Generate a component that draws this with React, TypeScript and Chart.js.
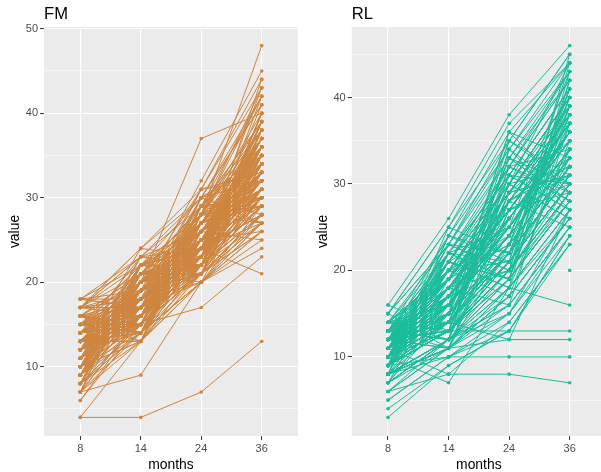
import React, { useEffect, useRef } from 'react';
import { Chart, registerables } from 'chart.js';

Chart.register(...registerables);

const FONT = '"Liberation Sans", Arial, Helvetica, sans-serif';

// categories (discrete months axis)
const months = ['8', '14', '24', '36'];

// FM group: one value per subject at each month
const fm8 = [
  4, 4, 7, 12, 15, 9, 11, 18, 13, 10,
  16, 8, 14, 11, 6, 17, 12, 10, 13, 9,
  15, 11, 18, 7, 14, 12, 16, 10, 8, 13,
  11, 17, 9, 14, 12, 15, 10, 13, 6, 16,
  12, 8, 14, 11, 18, 9, 13, 15, 10, 12,
  14, 16, 7, 11, 13, 10, 17, 12, 9, 15,
  13, 10, 15, 8, 12, 14, 11, 16, 18, 9,
  10, 13, 12, 17, 11, 7, 15, 14, 12, 16,
  11, 14, 9, 13, 10, 15, 12, 8, 17, 13,
  13, 9, 16, 11, 14, 8, 12, 17, 10, 15,
  7, 12, 14, 10, 16, 13, 9, 11, 15, 12,
  18, 10, 13, 8, 11, 14, 16, 9, 12, 17,
  10, 15, 11, 13, 7, 14, 12, 16, 9, 11,
  14, 12, 10, 17, 13, 8, 15, 11, 12, 16,
  9, 13, 18, 10, 14, 12, 11, 15, 8, 13,
  16, 11, 12, 9, 15, 10, 14, 13, 17, 12,
  8, 14, 10, 16, 12, 11, 13, 15, 9, 14,
  12, 17, 11, 13, 10, 16, 7, 14, 12, 15,
  10, 14, 8, 16, 12, 11, 15, 9, 13, 17,
  12, 7, 15, 10, 14, 13, 9, 16, 11, 12,
  16, 11, 13, 9, 15, 10, 12, 14, 8, 13,
  11, 15, 10, 12, 17, 9, 14, 13, 10, 16,
];
const fm14 = [
  4, 13, 9, 17, 19, 15, 16, 22, 18, 14,
  20, 13, 18, 16, 15, 24, 19, 17, 21, 14,
  18, 20, 23, 16, 17, 15, 21, 19, 14, 17,
  16, 22, 18, 15, 20, 17, 13, 19, 16, 21,
  17, 15, 19, 21, 18, 16, 14, 22, 20, 18,
  19, 17, 13, 15, 20, 18, 23, 16, 17, 19,
  21, 16, 18, 14, 22, 17, 20, 15, 19, 16,
  15, 18, 20, 24, 17, 14, 19, 21, 16, 18,
  17, 20, 16, 19, 13, 22, 18, 15, 21, 17,
  16, 21, 14, 19, 17, 22, 15, 18, 20, 16,
  19, 14, 23, 17, 18, 15, 21, 16, 13, 20,
  17, 22, 15, 19, 16, 18, 14, 21, 17, 23,
  20, 16, 18, 15, 22, 17, 19, 14, 18, 16,
  15, 19, 21, 17, 14, 20, 16, 18, 22, 15,
  18, 14, 17, 20, 16, 19, 21, 15, 17, 18,
  14, 20, 16, 18, 21, 15, 17, 19, 16, 22,
  19, 15, 18, 13, 20, 17, 16, 14, 21, 17,
  16, 18, 20, 15, 19, 14, 22, 17, 18, 20,
  19, 15, 21, 14, 18, 23, 16, 20, 13, 17,
  22, 16, 14, 19, 17, 21, 18, 15, 20, 24,
  15, 20, 17, 22, 14, 19, 16, 18, 21, 13,
  18, 14, 22, 16, 19, 20, 15, 17, 23, 16,
];
const fm24 = [
  7, 21, 20, 25, 23, 17, 24, 28, 22, 26,
  37, 22, 27, 24, 21, 30, 25, 28, 23, 20,
  26, 24, 29, 22, 24, 21, 27, 25, 20, 23,
  25, 28, 23, 21, 26, 24, 20, 32, 22, 27,
  23, 21, 26, 29, 25, 22, 24, 27, 31, 24,
  26, 22, 20, 25, 28, 23, 30, 21, 24, 27,
  29, 24, 23, 22, 26, 25, 28, 21, 27, 23,
  22, 27, 25, 31, 24, 20, 26, 29, 23, 25,
  24, 28, 21, 26, 22, 30, 25, 23, 28, 24,
  27, 23, 25, 21, 29, 24, 26, 22, 28, 25,
  22, 26, 24, 30, 23, 27, 21, 25, 29, 24,
  25, 21, 28, 23, 26, 22, 27, 24, 31, 22,
  23, 29, 21, 26, 24, 28, 22, 25, 20, 27,
  26, 24, 22, 28, 25, 21, 29, 23, 24, 30,
  21, 27, 25, 23, 26, 24, 22, 28, 25, 23,
  28, 22, 26, 24, 21, 29, 23, 25, 27, 22,
  24, 26, 23, 27, 22, 25, 28, 21, 26, 24,
  25, 23, 27, 22, 29, 24, 26, 30, 23, 25,
  23, 28, 21, 26, 30, 22, 25, 27, 24, 20,
  25, 29, 23, 21, 27, 24, 31, 22, 26, 23,
  28, 22, 25, 24, 29, 21, 27, 23, 20, 26,
  24, 27, 22, 29, 23, 25, 28, 21, 26, 30,
];
const fm36 = [
  13, 30, 27, 34, 33, 23, 32, 38, 29, 31,
  40, 28, 36, 30, 26, 41, 33, 48, 31, 27,
  35, 32, 39, 29, 21, 28, 37, 34, 25, 30,
  33, 43, 31, 28, 36, 34, 24, 45, 30, 38,
  32, 27, 35, 42, 33, 29, 31, 37, 44, 35,
  36, 30, 26, 33, 39, 31, 42, 28, 32, 35,
  38, 33, 30, 29, 36, 34, 40, 27, 37, 31,
  29, 35, 34, 43, 32, 26, 36, 39, 30, 33,
  31, 37, 28, 35, 30, 41, 34, 32, 38, 35,
  34, 29, 36, 31, 27, 38, 33, 30, 42, 32,
  31, 37, 28, 35, 40, 33, 26, 36, 30, 39,
  29, 34, 32, 38, 31, 27, 35, 41, 33, 28,
  37, 30, 34, 25, 36, 32, 39, 29, 33, 35,
  30, 38, 33, 27, 34, 31, 36, 40, 28, 32,
  35, 29, 37, 31, 33, 43, 30, 34, 26, 36,
  32, 36, 30, 39, 28, 35, 33, 31, 37, 34,
  28, 33, 39, 30, 35, 32, 29, 36, 34, 31,
  33, 40, 31, 35, 29, 37, 32, 34, 30, 36,
  35, 29, 38, 32, 27, 40, 31, 36, 33, 28,
  37, 30, 42, 34, 29, 36, 32, 39, 31, 35,
  30, 38, 33, 27, 36, 34, 31, 44, 29, 32,
  39, 33, 28, 36, 30, 37, 34, 31, 35, 28,
];

// RL group (last subject only has a 36-month value)
const rl8 = [
  11, 9, 10, 12, 8, 13, 3, 16, 7, 10,
  12, 9, 14, 11, 6, 10, 13, 8, 15, 11,
  9, 12, 7, 10, 11, 5, 13, 9, 12, 10,
  14, 8, 11, 10, 12, 9, 6, 13, 11, 4,
  10, 12, 9, 15, 11, 8, 10, 13, 7, 12,
  11, 9, 13, 10, 12, 14, 8, 11, 9, 10,
  13, 7, 10, 12, 11, 9, 12, 8, 14, 11,
  10, 12, 11, 9, 13, 10, 6, 12, 11, 9,
  12, 10, 8, 11, 9, 13, 11, 10, 12, 5,
  10, 12, 8, 11, 13, 9, 14, 10, 7, 12,
  11, 9, 13, 10, 12, 8, 11, 15, 9, 10,
  12, 10, 6, 13, 11, 9, 12, 10, 14, 8,
  9, 11, 12, 10, 7, 13, 10, 11, 9, 12,
  13, 8, 10, 12, 11, 14, 9, 10, 12, 11,
  10, 12, 9, 11, 13, 10, 8, 12, 11, 9,
  11, 13, 10, 9, 12, 11, 14, 10, 8, 12,
  12, 10, 11, 13, 9, 10, 12, 11, 15, 10,
  9, 11, 12, 10, 13, 8, 11, 12, 10, 11,
  9, 13, 11, 7, 12, 10, 14, 8, 11, 12,
  10, 8, 13, 11, 9, 12, 10, 15, 11, 13,
  12, 9, 10, 14, 8, 11, 13, 10, 12, 9,
  11, 14, 9, 12, 10, 13, 7, 11, 10, 12,
  13, 10, 12, 9, 11, 8, 12, 10, 14, 11,
  10, 11, 13, 12, 9, 10, 11, 16, 12, 10,
  null,
];
const rl14 = [
  8, 10, 7, 13, 11, 16, 9, 26, 12, 18,
  15, 13, 20, 17, 11, 14, 19, 12, 25, 16,
  14, 18, 12, 21, 15, 10, 17, 13, 24, 16,
  19, 11, 22, 15, 16, 13, 12, 18, 14, 9,
  17, 20, 13, 23, 15, 12, 16, 19, 11, 17,
  14, 16, 21, 13, 18, 20, 10, 15, 17, 13,
  22, 12, 16, 19, 14, 15, 18, 11, 20, 16,
  13, 17, 15, 14, 21, 16, 8, 19, 15, 14,
  18, 16, 11, 17, 13, 24, 15, 14, 19, 10,
  15, 18, 12, 20, 14, 17, 22, 13, 16, 19,
  17, 14, 21, 16, 19, 12, 15, 23, 18, 14,
  20, 16, 11, 18, 15, 13, 21, 17, 19, 14,
  13, 19, 16, 15, 12, 22, 14, 18, 16, 20,
  21, 15, 17, 14, 19, 16, 13, 20, 18, 15,
  16, 22, 14, 18, 17, 15, 12, 19, 16, 13,
  18, 20, 15, 13, 17, 19, 23, 14, 12, 18,
  19, 14, 17, 21, 13, 16, 18, 15, 25, 17,
  14, 17, 19, 16, 20, 11, 15, 18, 14, 16,
  18, 12, 21, 15, 11, 23, 14, 17, 20, 13,
  16, 22, 12, 19, 24, 14, 18, 11, 21, 15,
  13, 20, 17, 12, 22, 16, 11, 19, 14, 25,
  21, 13, 18, 16, 23, 12, 19, 15, 22, 14,
  12, 19, 15, 21, 17, 24, 13, 20, 16, 18,
  22, 14, 17, 11, 20, 15, 23, 13, 18, 21,
  null,
];
const rl24 = [
  8, 10, 18, 13, 12, 24, 13, 38, 20, 28,
  26, 22, 30, 25, 17, 23, 29, 19, 37, 24,
  21, 27, 15, 31, 23, 14, 26, 20, 34, 25,
  28, 18, 33, 22, 24, 21, 16, 27, 23, 13,
  25, 30, 20, 35, 22, 19, 24, 29, 17, 26,
  22, 25, 32, 21, 27, 30, 15, 23, 26, 20,
  31, 19, 24, 28, 22, 23, 27, 18, 29, 25,
  21, 26, 23, 22, 32, 24, 14, 28, 23, 12,
  27, 24, 16, 26, 21, 36, 23, 22, 28, 13,
  23, 27, 19, 29, 22, 25, 31, 20, 24, 28,
  26, 21, 30, 24, 27, 18, 23, 33, 26, 22,
  29, 24, 17, 27, 22, 20, 30, 25, 28, 21,
  20, 28, 24, 23, 16, 32, 21, 26, 24, 29,
  30, 22, 25, 21, 28, 24, 19, 29, 26, 23,
  24, 31, 21, 26, 25, 22, 18, 28, 24, 20,
  27, 29, 22, 19, 25, 27, 34, 21, 17, 26,
  28, 21, 25, 30, 20, 24, 26, 23, 35, 25,
  22, 25, 27, 24, 29, 15, 23, 26, 21, 24,
  22, 29, 18, 33, 26, 20, 31, 24, 17, 35,
  28, 19, 32, 23, 21, 30, 16, 27, 25, 36,
  31, 21, 26, 34, 19, 28, 23, 32, 29, 22,
  18, 30, 24, 35, 20, 27, 25, 33, 21, 28,
  34, 23, 30, 19, 31, 22, 29, 26, 33, 20,
  25, 32, 20, 28, 24, 36, 22, 30, 27, 19,
  null,
];
const rl36 = [
  7, 10, 16, 13, 12, 33, 24, 46, 30, 37,
  35, 31, 40, 34, 26, 32, 39, 28, 44, 33,
  30, 36, 25, 41, 32, 23, 35, 29, 43, 34,
  38, 27, 42, 31, 33, 30, 25, 37, 32, 24,
  34, 39, 29, 45, 31, 28, 33, 38, 26, 35,
  31, 34, 42, 30, 36, 40, 27, 32, 35, 29,
  41, 28, 33, 37, 31, 32, 36, 26, 39, 34,
  30, 35, 32, 31, 43, 33, 23, 37, 32, 27,
  36, 33, 25, 35, 30, 44, 32, 31, 37, 23,
  32, 37, 29, 39, 31, 34, 41, 28, 33, 38,
  35, 30, 40, 33, 36, 27, 32, 43, 35, 31,
  38, 33, 26, 36, 31, 29, 40, 34, 37, 30,
  29, 37, 33, 32, 25, 42, 30, 35, 33, 39,
  40, 31, 34, 30, 37, 33, 28, 38, 35, 32,
  33, 41, 30, 35, 34, 31, 27, 37, 33, 29,
  36, 39, 31, 28, 34, 36, 44, 30, 26, 35,
  37, 30, 34, 40, 29, 33, 35, 32, 45, 34,
  31, 34, 36, 33, 38, 24, 32, 35, 30, 33,
  38, 31, 42, 28, 36, 33, 27, 40, 35, 30,
  25, 39, 34, 41, 32, 26, 37, 29, 43, 33,
  30, 44, 36, 27, 38, 32, 41, 29, 35, 40,
  34, 26, 39, 31, 45, 30, 36, 28, 42, 33,
  29, 37, 32, 43, 27, 39, 31, 35, 30, 41,
  36, 28, 40, 33, 38, 29, 34, 44, 31, 37,
  20,
];

const fmTicks = [5, 10, 15, 20, 25, 30, 35, 40, 45, 50];
const rlTicks = [5, 10, 15, 20, 25, 30, 35, 40, 45];

type PanelSpec = {
  title: string;
  cols: (number | null)[][];
  color: string;
  yMin: number;
  yMax: number;
  yTicks: number[];
  yAxisWidth: number;
  padRight: number;
};

function buildConfig(spec: PanelSpec): any {
  const n = spec.cols[0].length;
  const linePts: any[] = [];
  const pts: any[] = [];
  for (let i = 0; i < n; i++) {
    spec.cols.forEach((c, k) => {
      const y = c[i];
      linePts.push({ x: k, y });
      if (y !== null && y !== undefined) pts.push({ x: k, y });
    });
    // break between subjects
    linePts.push({ x: 3, y: null });
  }
  const datasets: any[] = [
    {
      data: pts,
      showLine: false,
      pointRadius: 1.8,
      pointBorderWidth: 0,
      pointBackgroundColor: spec.color,
      backgroundColor: spec.color,
      borderColor: spec.color,
      order: 0,
    },
    {
      data: linePts,
      borderColor: spec.color,
      backgroundColor: spec.color,
      borderWidth: 1,
      borderCapStyle: 'round',
      borderJoinStyle: 'round',
      pointRadius: 0,
      fill: false,
      spanGaps: false,
      order: 1,
    },
  ];

  const panelPlugin = {
    id: 'panelDecor' + spec.title,
    beforeDraw(chart: any) {
      const { ctx, chartArea: ca } = chart;
      ctx.save();
      ctx.fillStyle = '#EBEBEB';
      ctx.fillRect(ca.left, ca.top, ca.right - ca.left, ca.bottom - ca.top);
      ctx.restore();
    },
    afterDraw(chart: any) {
      const { ctx, chartArea: ca } = chart;
      ctx.save();
      ctx.fillStyle = '#000000';
      ctx.textBaseline = 'alphabetic';
      ctx.font = `16.6px ${FONT}`;
      ctx.textAlign = 'left';
      ctx.fillText(spec.title, ca.left, 19);
      ctx.font = `13.9px ${FONT}`;
      ctx.textAlign = 'center';
      ctx.fillText('months', (ca.left + ca.right) / 2, 468.5);
      ctx.translate(ca.left - 25, (ca.top + ca.bottom) / 2);
      ctx.rotate(-Math.PI / 2);
      ctx.fillText('value', 0, 0);
      ctx.restore();
    },
  };

  return {
    type: 'line',
    data: { datasets },
    options: {
      animation: false,
      responsive: false,
      devicePixelRatio: 1,
      events: [],
      layout: { padding: { top: 27, right: spec.padRight, left: 0, bottom: 0 } },
      plugins: {
        legend: { display: false },
        tooltip: { enabled: false },
        title: { display: false },
      },
      scales: {
        x: {
          type: 'linear',
          min: -0.6,
          max: 3.6,
          afterBuildTicks: (axis: any) => {
            axis.ticks = months.map((_, i) => ({ value: i }));
          },
          afterFit: (axis: any) => {
            axis.height = 36;
          },
          border: { display: false },
          grid: {
            color: '#FFFFFF',
            lineWidth: 1.1,
            drawTicks: true,
            tickLength: 4,
            tickColor: '#333333',
            tickWidth: 1,
          },
          ticks: {
            autoSkip: false,
            maxRotation: 0,
            minRotation: 0,
            padding: 2,
            color: '#4D4D4D',
            font: { family: FONT, size: 11 },
            callback: (v: any) => months[v as number] ?? '',
          },
        },
        y: {
          type: 'linear',
          min: spec.yMin,
          max: spec.yMax,
          afterBuildTicks: (axis: any) => {
            axis.ticks = spec.yTicks.map((v) => ({ value: v }));
          },
          afterFit: (axis: any) => {
            axis.width = spec.yAxisWidth;
          },
          border: { display: false },
          grid: {
            color: '#FFFFFF',
            lineWidth: (ctx: any) => (ctx.tick && ctx.tick.value % 10 === 0 ? 1.1 : 0.55),
            drawTicks: true,
            tickLength: 4,
            tickColor: (ctx: any) =>
              ctx.tick && ctx.tick.value % 10 === 0 ? '#333333' : 'rgba(0,0,0,0)',
            tickWidth: 1,
          },
          ticks: {
            autoSkip: false,
            padding: 2,
            color: '#4D4D4D',
            font: { family: FONT, size: 11 },
            callback: (v: any) => ((v as number) % 10 === 0 ? String(v) : ''),
          },
        },
      },
    },
    plugins: [panelPlugin],
  };
}

function Panel(props: { spec: PanelSpec; left: number; width: number }) {
  const ref = useRef<HTMLCanvasElement | null>(null);
  useEffect(() => {
    if (!ref.current) return;
    const chart = new Chart(ref.current, buildConfig(props.spec));
    return () => chart.destroy();
  }, []);
  return (
    <canvas
      ref={ref}
      width={props.width}
      height={472}
      style={{ position: 'absolute', left: props.left, top: 0, width: props.width, height: 472 }}
    />
  );
}

export default function App() {
  const fmSpec: PanelSpec = {
    title: 'FM',
    cols: [fm8, fm14, fm24, fm36],
    color: '#CD853F',
    yMin: 1.8,
    yMax: 50.2,
    yTicks: fmTicks,
    yAxisWidth: 44,
    padRight: 0.3,
  };
  const rlSpec: PanelSpec = {
    title: 'RL',
    cols: [rl8, rl14, rl24, rl36],
    color: '#1ABC9C',
    yMin: 0.85,
    yMax: 48.15,
    yTicks: rlTicks,
    yAxisWidth: 51.7,
    padRight: 0.6,
  };
  return (
    <div
      style={{
        position: 'fixed',
        left: 0,
        top: 0,
        width: 601,
        height: 472,
        overflow: 'hidden',
        background: '#FFFFFF',
      }}
    >
      <Panel spec={fmSpec} left={0} width={302} />
      <Panel spec={rlSpec} left={300} width={310} />
    </div>
  );
}
